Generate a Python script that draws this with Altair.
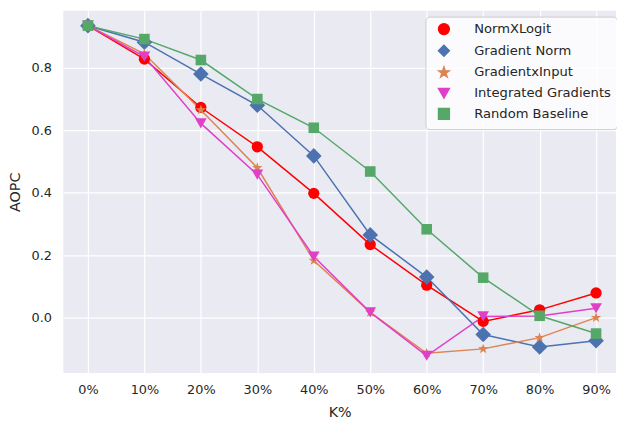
import altair as alt
import pandas as pd

k_labels = ["0%", "10%", "20%", "30%", "40%", "50%", "60%", "70%", "80%", "90%"]
k_index = list(range(10))

series_names = ["NormXLogit", "Gradient Norm", "GradientxInput", "Integrated Gradients", "Random Baseline"]
norm_x_logit = [0.935, 0.828, 0.673, 0.547, 0.398, 0.234, 0.104, -0.012, 0.025, 0.079]
gradient_norm = [0.935, 0.882, 0.780, 0.680, 0.518, 0.265, 0.130, -0.054, -0.094, -0.074]
gradient_x_input = [0.935, 0.845, 0.665, 0.480, 0.183, 0.017, -0.114, -0.100, -0.064, 0.000]
integrated_gradients = [0.935, 0.836, 0.622, 0.458, 0.196, 0.017, -0.122, 0.004, 0.005, 0.030]
random_baseline = [0.935, 0.892, 0.825, 0.700, 0.608, 0.468, 0.283, 0.128, 0.006, -0.051]

colors = ["#ff0000", "#4c72b0", "#dd8452", "#e03fc8", "#55a868"]
star = "M0,-1L0.235,-0.324L0.951,-0.309L0.38,0.124L0.588,0.809L0,0.4L-0.588,0.809L-0.38,0.124L-0.951,-0.309L-0.235,-0.324Z"
shapes = ["circle", "diamond", star, "triangle-down", "square"]
marker_sizes = [130, 250, 120, 140, 115]

all_values = [norm_x_logit, gradient_norm, gradient_x_input, integrated_gradients, random_baseline]
rows = []
for name, vals in zip(series_names, all_values):
    for k, v in zip(k_index, vals):
        rows.append({"Method": name, "k": k, "AOPC": v})
df = pd.DataFrame(rows)

x_enc = alt.X("k:Q", title="K%",
              scale=alt.Scale(domain=[-0.437, 9.353], nice=False, zero=False),
              axis=alt.Axis(values=k_index, labelExpr="datum.value * 10 + '%'",
                            ticks=False, domain=False, labelPadding=11, titlePadding=9,
                            gridColor="white", gridWidth=1.2))
y_enc = alt.Y("AOPC:Q", title="AOPC",
              scale=alt.Scale(domain=[-0.177, 0.983], nice=False, zero=False),
              axis=alt.Axis(values=[0.0, 0.2, 0.4, 0.6, 0.8], format=".1f",
                            ticks=False, domain=False, labelPadding=12, titlePadding=9,
                            gridColor="white", gridWidth=1.2))

color_scale = alt.Scale(domain=series_names, range=colors)
shape_scale = alt.Scale(domain=series_names, range=shapes)

legend = alt.Legend(orient="none", legendX=367, legendY=6,
                    fillColor="rgba(255,255,255,0.8)", strokeColor="#cccccc",
                    cornerRadius=4, padding=6, rowPadding=4,
                    labelFontSize=13.3, labelColor="#262626",
                    labelFont="DejaVu Sans", symbolSize=120, symbolOffset=6,
                    symbolOpacity=1, labelOffset=24, title=None)

lines = alt.Chart(df).mark_line(strokeWidth=1.5).encode(
    x=x_enc, y=y_enc,
    color=alt.Color("Method:N", scale=color_scale, sort=series_names, legend=legend),
    detail="Method:N",
)

layers = [lines]
for name, sz in zip(series_names, marker_sizes):
    sub = df[df["Method"] == name]
    layers.append(
        alt.Chart(sub).mark_point(filled=True, opacity=1, size=sz).encode(
            x=x_enc, y=y_enc,
            color=alt.Color("Method:N", scale=color_scale, sort=series_names, legend=legend),
            shape=alt.Shape("Method:N", scale=shape_scale, sort=series_names, legend=legend),
        )
    )

chart = alt.layer(*layers).properties(
    width=560, height=367,
    autosize=alt.AutoSizeParams(type="none"),
    padding={"left": 56, "top": 0, "right": 1, "bottom": 46},
).configure_view(
    fill="#eaeaf2", stroke=None
).configure_axis(
    labelFont="DejaVu Sans", titleFont="DejaVu Sans",
    labelFontSize=13, titleFontSize=14.5,
    labelColor="#262626", titleColor="#262626", titleFontWeight="normal",
)

chart.save("out.html", embed_options={"renderer": "svg", "actions": False})
